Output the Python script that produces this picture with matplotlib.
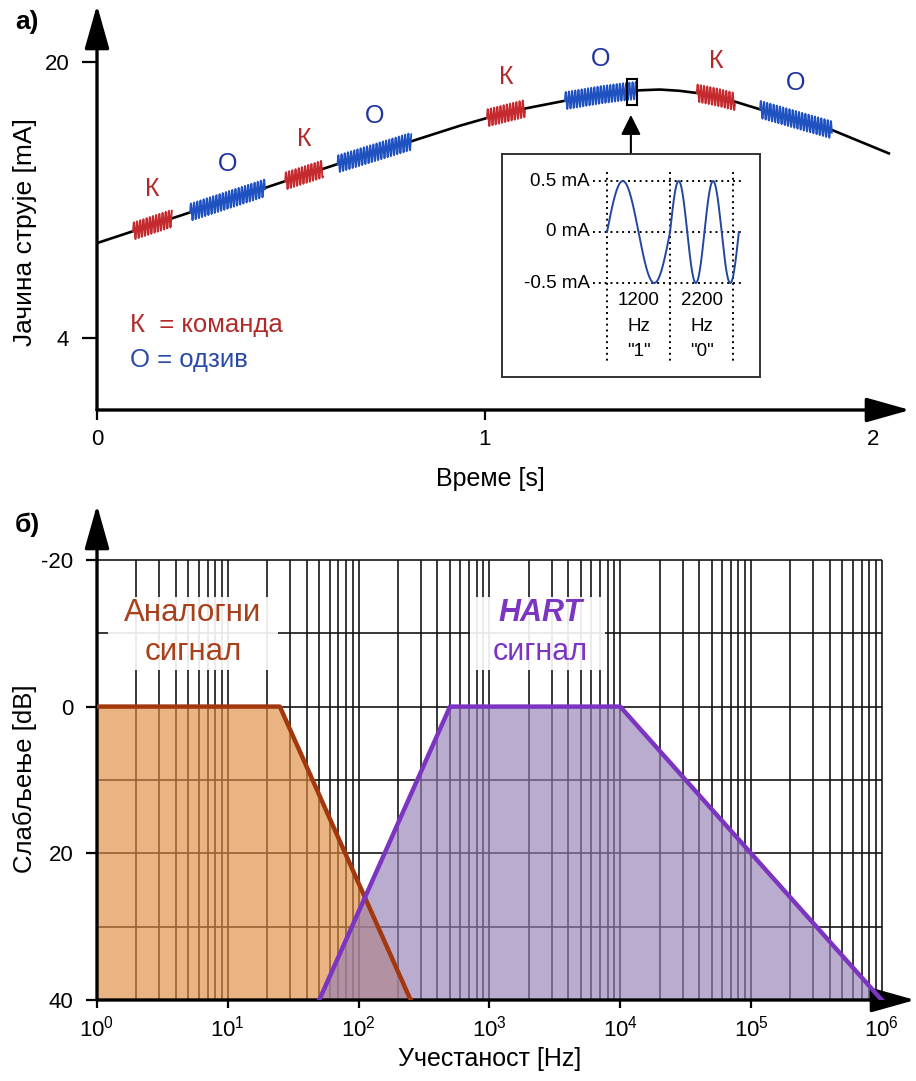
import numpy as np
import matplotlib
matplotlib.use('Agg')
import matplotlib.pyplot as plt
from matplotlib.patches import Rectangle
from matplotlib.ticker import NullLocator

plt.rcParams['font.family'] = ['Liberation Sans', 'DejaVu Sans']
plt.rcParams['mathtext.fontset'] = 'custom'
plt.rcParams['mathtext.rm'] = 'Liberation Sans'
plt.rcParams['mathtext.it'] = 'Liberation Sans:italic'
plt.rcParams['mathtext.bf'] = 'Liberation Sans:bold'
plt.rcParams['axes.unicode_minus'] = False

# ---------------- data ----------------
# panel a): slow analog current (mA) versus time (s)
curve_t = [0.0, 0.093, 0.193, 0.24, 0.433, 0.485, 0.582, 0.62, 0.81, 0.935, 1.005,
           1.103, 1.206, 1.30, 1.35, 1.392, 1.45, 1.50, 1.546, 1.60, 1.644, 1.709,
           1.894, 2.044]
curve_i = [9.5, 10.19, 10.93, 11.28, 12.70, 13.09, 13.80, 14.08, 15.40, 16.30, 16.75,
           17.30, 17.75, 18.10, 18.25, 18.35, 18.40, 18.33, 18.20, 17.95, 17.70, 17.25,
           16.06, 14.67]
seg_kind = ['К', 'О', 'К', 'О', 'К', 'О', 'К', 'О']
seg_start = [0.093, 0.24, 0.485, 0.62, 1.005, 1.206, 1.546, 1.709]
seg_end = [0.193, 0.433, 0.582, 0.81, 1.103, 1.392, 1.644, 1.894]
osc_amp = 0.5        # mA
osc_period = 0.0082  # s (visual carrier period)
a_xticks = [0, 1, 2]
a_yticks = [4, 20]

# inset: FSK signal
fsk_bits = ['"1"', '"0"']
fsk_freq = [1200, 2200]        # Hz
fsk_cycles = [1, 2]            # cycles drawn per frequency
bit_time_ms = 1000.0 / 1200    # ms
inset_levels = [0.5, 0.0, -0.5]
inset_level_labels = ['0.5 mA', '0 mA', '-0.5 mA']

# panel б): attenuation (dB) versus frequency (Hz)
analog_f = [1, 25, 250]
analog_db = [0, 0, 40]
hart_f = [50, 500, 1e4, 1e6]
hart_db = [40, 0, 0, 40]
b_yticks = [-20, 0, 20, 40]
b_grid_db = [-20, -10, 0, 10, 20, 30]

# ---------------- figure ----------------
W, H = 916, 1081
fig = plt.figure(figsize=(W / 100, H / 100), dpi=100)


def rect(x0, y0, x1, y1):
    return [x0 / W, 1 - y1 / H, (x1 - x0) / W, (y1 - y0) / H]


def P(x, y):
    return (x / W, 1 - y / H)


RED_SEG = '#c42a2e'
BLUE_SEG = '#1f52c0'
RED_TXT = '#b02a2a'
BLUE_TXT = '#1f33a0'


def axis_arrows(ax):
    for s in ax.spines.values():
        s.set_visible(False)
    st = '-|>,head_length=1.35,head_width=0.38'
    ax.annotate('', xy=(0, 1), xytext=(0, 0), xycoords='axes fraction',
                arrowprops=dict(arrowstyle=st, lw=2.4, color='k', mutation_scale=20,
                                shrinkA=0, shrinkB=0), annotation_clip=False)
    ax.annotate('', xy=(1, 0), xytext=(0, 0), xycoords='axes fraction',
                arrowprops=dict(arrowstyle=st, lw=2.4, color='k', mutation_scale=20,
                                shrinkA=0, shrinkB=0), annotation_clip=False)


# ---- panel a ----
ax1 = fig.add_axes(rect(97, 5, 910, 410))
ax1.set_xlim(0, 2.0954)
ax1.set_ylim(-0.174, 23.30)
ax1.set_facecolor('none')
axis_arrows(ax1)

ax1.plot(curve_t, curve_i, color='k', lw=1.9, zorder=3, solid_capstyle='butt')
for kind, t0, t1 in zip(seg_kind, seg_start, seg_end):
    tt = np.arange(t0, t1, osc_period / 40)
    base = np.interp(tt, curve_t, curve_i)
    ii = base + osc_amp * np.sin(2 * np.pi * (tt - t0) / osc_period)
    col = RED_SEG if kind == 'К' else BLUE_SEG
    ax1.plot(tt, ii, color=col, lw=1.35, zorder=4)
    mid = 0.5 * (t0 + t1)
    ax1.text(mid, np.interp(mid, curve_t, curve_i) + 2.1, kind,
             color=RED_TXT if kind == 'К' else BLUE_TXT, fontsize=18,
             ha='center', va='center')

# zoom box and arrow
ax1.add_patch(Rectangle((1.366, 17.51), 0.026, 1.5, fc='none', ec='k', lw=1.5, zorder=6))
ax1.annotate('', xy=(1.376, 16.93), xytext=(1.376, 14.67),
             arrowprops=dict(arrowstyle='-|>,head_length=0.6,head_width=0.3', lw=1.5,
                             color='k', mutation_scale=20, shrinkA=0, shrinkB=0))

ax1.set_xticks(a_xticks)
ax1.set_yticks(a_yticks)
ax1.tick_params(axis='x', direction='out', length=7, width=1.6, labelsize=16, pad=7)
ax1.tick_params(axis='y', direction='out', length=11, width=1.6, labelsize=16, pad=9)

fig.text(*P(25, 232), 'Јачина струје [mA]', rotation=90, ha='center', va='center', fontsize=19)
fig.text(*P(490, 479), 'Време [s]', ha='center', va='center', fontsize=18)
fig.text(*P(27, 22), 'а)', ha='center', va='center', fontsize=19, fontweight='bold')
fig.text(*P(130, 325), 'К  = команда', ha='left', va='center', fontsize=18.5, color=RED_TXT)
fig.text(*P(130, 360), 'О = одзив', ha='left', va='center', fontsize=18.5, color='#2a4aa8')

# ---- inset ----
axb = fig.add_axes(rect(502, 154, 760, 377))
axb.set_xticks([])
axb.set_yticks([])
for s in axb.spines.values():
    s.set_linewidth(1.4)
    s.set_color('#333333')
axb.set_zorder(5)

axw = fig.add_axes(rect(607, 181, 740, 283))
axw.set_zorder(6)
axw.set_facecolor('none')
axw.set_xlim(0, 1.7576)
axw.set_ylim(-0.5, 0.5)
axw.axis('off')
dot = (0, (1, 2))
for lv, lab in zip(inset_levels, inset_level_labels):
    axw.plot([-0.185, 1.786], [lv, lv], color='k', lw=1.4, ls=dot, clip_on=False)
    axw.text(-0.225, lv, lab, ha='right', va='center', fontsize=13.5)
for k in range(3):
    axw.plot([k * bit_time_ms] * 2, [0.588, -1.275], color='k', lw=1.4, ls=dot, clip_on=False)
t0 = 0.0
for i, (f, nc, bit) in enumerate(zip(fsk_freq, fsk_cycles, fsk_bits)):
    dur = nc * 1000.0 / f
    tt = np.linspace(t0, t0 + dur, 300)
    axw.plot(tt, 0.5 * np.sin(2 * np.pi * f / 1000.0 * (tt - t0)), color='#2347a0',
             lw=1.4, clip_on=False)
    c = bit_time_ms * (i + 0.5)
    for yy, s in zip([-0.667, -0.931, -1.176], [str(f), 'Hz', bit]):
        axw.text(c, yy, s, ha='center', va='center', fontsize=13.5)
    t0 += dur

# ---- panel б ----
ax2 = fig.add_axes(rect(97, 505, 915, 1000))
ax2.set_xscale('log')
ax2.set_xlim(1, 10 ** 6.254)
ax2.set_ylim(40, -27.48)
axis_arrows(ax2)

gridx = [k * 10.0 ** d for d in range(6) for k in range(1, 10)] + [1e6]
ax2.vlines(gridx, -20, 40, color='#151515', lw=1.2, zorder=1)
ax2.hlines(b_grid_db, 1, 1e6, color='#151515', lw=1.2, zorder=1)

ax2.fill_between(analog_f, analog_db, 40, color='#e08a40', alpha=0.65, lw=0, zorder=2)
ax2.fill_between(hart_f, hart_db, 40, color='#9580b5', alpha=0.65, lw=0, zorder=2)
ax2.plot(analog_f, analog_db, color='#a3380f', lw=3.2, zorder=4)
ax2.plot(hart_f, hart_db, color='#7b35c0', lw=3.2, zorder=4)

ax2.add_patch(Rectangle((1.21, -15), 24.2 - 1.21, 10, fc='white', ec='none', alpha=0.9, zorder=3))
ax2.add_patch(Rectangle((711, -15), 7650 - 711, 10, fc='white', ec='none', alpha=0.9, zorder=3))
ax2.text(5.4, -12.8, 'Аналогни', color='#a8401c', fontsize=22.5, ha='center', va='center', zorder=5)
ax2.text(5.4, -7.5, 'сигнал', color='#a8401c', fontsize=22.5, ha='center', va='center', zorder=5)
ax2.text(2440, -12.8, 'HART', color='#7b35c0', fontsize=22, ha='center', va='center',
         fontweight='bold', fontstyle='italic', zorder=5)
ax2.text(2440, -7.5, 'сигнал', color='#7b35c0', fontsize=22, ha='center', va='center', zorder=5)

ax2.set_xticks([10.0 ** i for i in range(7)])
ax2.xaxis.set_minor_locator(NullLocator())
ax2.set_yticks(b_yticks)
ax2.tick_params(axis='x', direction='out', length=6, width=1.6, labelsize=16, pad=5)
ax2.tick_params(axis='y', direction='out', length=8, width=1.6, labelsize=16, pad=9)

fig.text(*P(25, 779), 'Слабљење [dB]', rotation=90, ha='center', va='center', fontsize=18.5)
fig.text(*P(490, 1059), 'Учестаност [Hz]', ha='center', va='center', fontsize=18)
fig.text(*P(27, 525), 'б)', ha='center', va='center', fontsize=19, fontweight='bold')

fig.savefig('out.png', dpi=100)
